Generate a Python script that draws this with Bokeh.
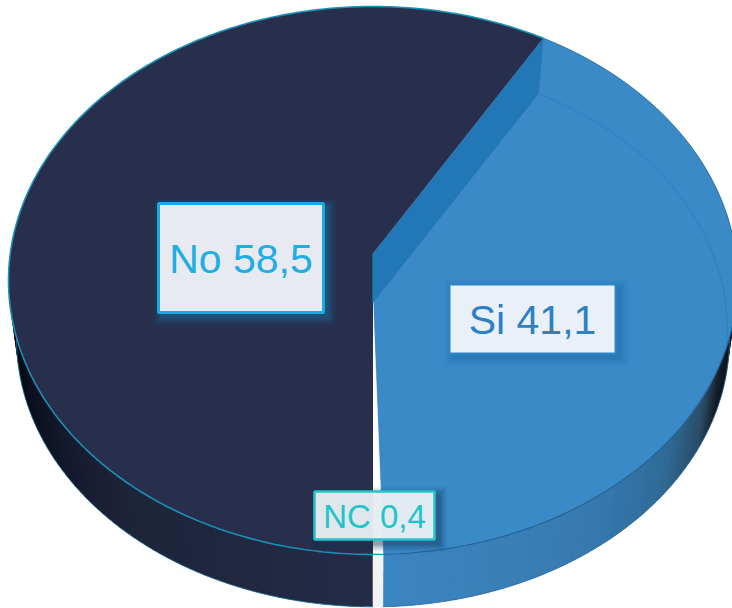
import numpy as np
from bokeh.plotting import figure
from bokeh.models import Range1d
from bokeh.core.properties import value
from bokeh.embed import file_html
from bokeh.resources import INLINE

categories = ["Si", "No", "NC"]
values = [41.1, 58.5, 0.4]

W, H = 732, 608
START = 30.6          # clockwise from the far side of the disc, degrees
CX, CY = 372.5, 253.0 # apex on the screen
AX, AY, K = 362.7, 271.3, 0.0985
LOW = 49.0            # how far the Si face is sunk
FONT = "Liberation Sans"

def proj(deg):
    t = np.radians(np.asarray(deg, dtype=float))
    u, v = np.sin(t), np.cos(t)
    w = 1 + K * v
    return CX + AX * u / w, CY - AY * v / w

def lower(deg):
    x, y = proj(deg)
    return CX + (x - CX) * 0.978, CY + 59 + (y - CY) * 0.978

def inner(deg):
    x, y = proj(deg)
    return CX + (x - CX) * 0.972, CY + LOW + (y - CY) * 0.97

def hex_mix(stops, f):
    xs = [s[0] for s in stops]
    cs = np.array([[int(s[1][i:i + 2], 16) for i in (1, 3, 5)] for s in stops], dtype=float)
    rgb = [np.interp(f, xs, cs[:, i]) for i in range(3)]
    return "#%02x%02x%02x" % tuple(int(round(c)) for c in rgb)

si_a = START
si_b = si_a + values[0] * 3.6
no_a = si_b + values[2] * 3.6
no_b = no_a + values[1] * 3.6

p = figure(width=W, height=H, x_range=Range1d(0, W), y_range=Range1d(H, 0),
           output_backend="svg", toolbar_location=None, min_border=0, margin=(0, 0, 0, 0))
p.axis.visible = False
p.grid.visible = False
p.outline_line_color = None
p.background_fill_color = "#ffffff"
p.border_fill_color = "#ffffff"

# --- side wall, drawn as narrow overlapping strips so that it shades across
def side(a, b, stops, n):
    edges = np.linspace(a, b, n + 1)
    step = edges[1] - edges[0]
    xs, ys, cols = [], [], []
    for e0 in edges[:-1]:
        e1 = e0 + 1.8 * step
        if (step > 0 and e1 > b) or (step < 0 and e1 < b):
            e1 = b
        x0, y0 = proj([e0, e1])
        x1, y1 = lower([e1, e0])
        xs.append(list(x0) + list(x1))
        ys.append(list(y0) + list(y1))
        cols.append(hex_mix(stops, float(np.mean(x0))))
    p.patches(xs, ys, fill_color=cols, line_color=None)

no_stops = [(9, "#05070f"), (30, "#0d1122"), (70, "#161b30"), (130, "#1e2439"), (372, "#252c48")]
si_stops = [(382, "#3a86c2"), (500, "#3a80b8"), (610, "#3578ad"), (670, "#2f6a96"),
            (705, "#2a4c68"), (722, "#141c26"), (735, "#0c1016")]
side(si_b, 90, si_stops, 70)
side(no_a, 285, no_stops, 80)
xa, ya = proj([si_b, no_a]); xb, yb = lower([no_a, si_b])
p.patch(list(xa) + list(xb), list(ya) + list(yb), fill_color="#f2f2f2", line_color="#f2f2f2", line_width=0.5)

# silhouette of the wall
lx, ly = lower(np.linspace(si_b, 95, 90))
p.line(lx, ly, line_color="#2a6a9c", line_width=0.8)
lx, ly = lower(np.linspace(no_a, 280, 90))
p.line(lx, ly, line_color="#1b6f95", line_width=0.8)

# --- Si: sunk face, its back rim and the inner wall
arc = np.linspace(si_a, si_b, 160)
ax, ay = proj(arc)
p.patch([CX] + list(ax), [CY + LOW] + list(ay), fill_color="#3a8ac8", line_color="#3a8ac8", line_width=0.5)
wx0, wy0 = proj(si_a)
ix0, iy0 = inner(si_a)
p.patch([CX, wx0, ix0, CX], [CY, wy0, iy0, CY + LOW], fill_color="#2277b7", line_color="#2277b7", line_width=0.5)
rim = np.linspace(si_a, 100, 80)
rx, ry = inner(rim)
p.line(rx, ry, line_color="#2f7fbd", line_width=1)
bx, by = proj(np.linspace(si_a, 105, 80))
p.line(bx, by, line_color="#2b6f9f", line_width=0.9)

# --- NC sliver face
sl = np.linspace(si_b, no_a, 8)
sx, sy = proj(sl)
p.patch([CX] + list(sx), [CY + LOW] + list(sy), fill_color="#ffffff", line_color="#ffffff", line_width=0.5)

# --- No face
arc = np.linspace(no_a, no_b, 300)
nx, ny = proj(arc)
p.patch([CX] + list(nx), [CY] + list(ny), fill_color="#282f4d", line_color=None)
p.line([CX, CX], [CY, CY + LOW], line_color="#1b8fb5", line_width=1)
p.line(nx, ny, line_color="#1b8fb5", line_width=1.6)

# --- Si front rim, running on across the sliver
arc = np.linspace(105, si_b, 100)
fx, fy = proj(arc)
p.line(fx, fy, line_color="#24639a", line_width=1.2)
fx, fy = proj(np.linspace(si_b, no_a, 6))
p.line(fx, fy, line_color="#1b8fb5", line_width=1.2)

# --- labels
def label(idx, l, t, r, b, fill, edge, ink, shadow, size, edge_w, fill_alpha=1.0):
    for i, al in zip(range(9, 0, -1), [0.03, 0.04, 0.05, 0.06, 0.07, 0.08, 0.09, 0.1, 0.1]):
        p.quad(left=[l - i + 4], right=[r + i + 4], top=[t - i + 4], bottom=[b + i + 4],
               fill_color=shadow, fill_alpha=al, line_color=None)
    p.quad(left=[l], right=[r], top=[t], bottom=[b], fill_color=fill, fill_alpha=fill_alpha,
           line_color=edge, line_width=edge_w)
    txt = f"{categories[idx]} {str(values[idx]).replace('.', ',')}"
    p.text([(l + r) / 2], [(t + b) / 2 + 1], text=[txt], text_color=ink,
           text_font=value(FONT), text_font_size=value(f"{size}px"),
           text_align="center", text_baseline="middle")

label(1, 158, 203, 323, 312, "#e7eaf0", "#1ea8e0", "#1fade3", "#1a7fb0", 41, 3)
label(0, 449, 284, 615, 353, "#e9f0f8", "#2d86c7", "#2d80c4", "#1f6fa8", 41, 2)
label(2, 314, 491, 434, 539, "#edf2f7", "#22c4c9", "#22c4c9", "#123a55", 33, 2.5, 0.94)

open("out.html", "w").write(file_html(p, INLINE))
